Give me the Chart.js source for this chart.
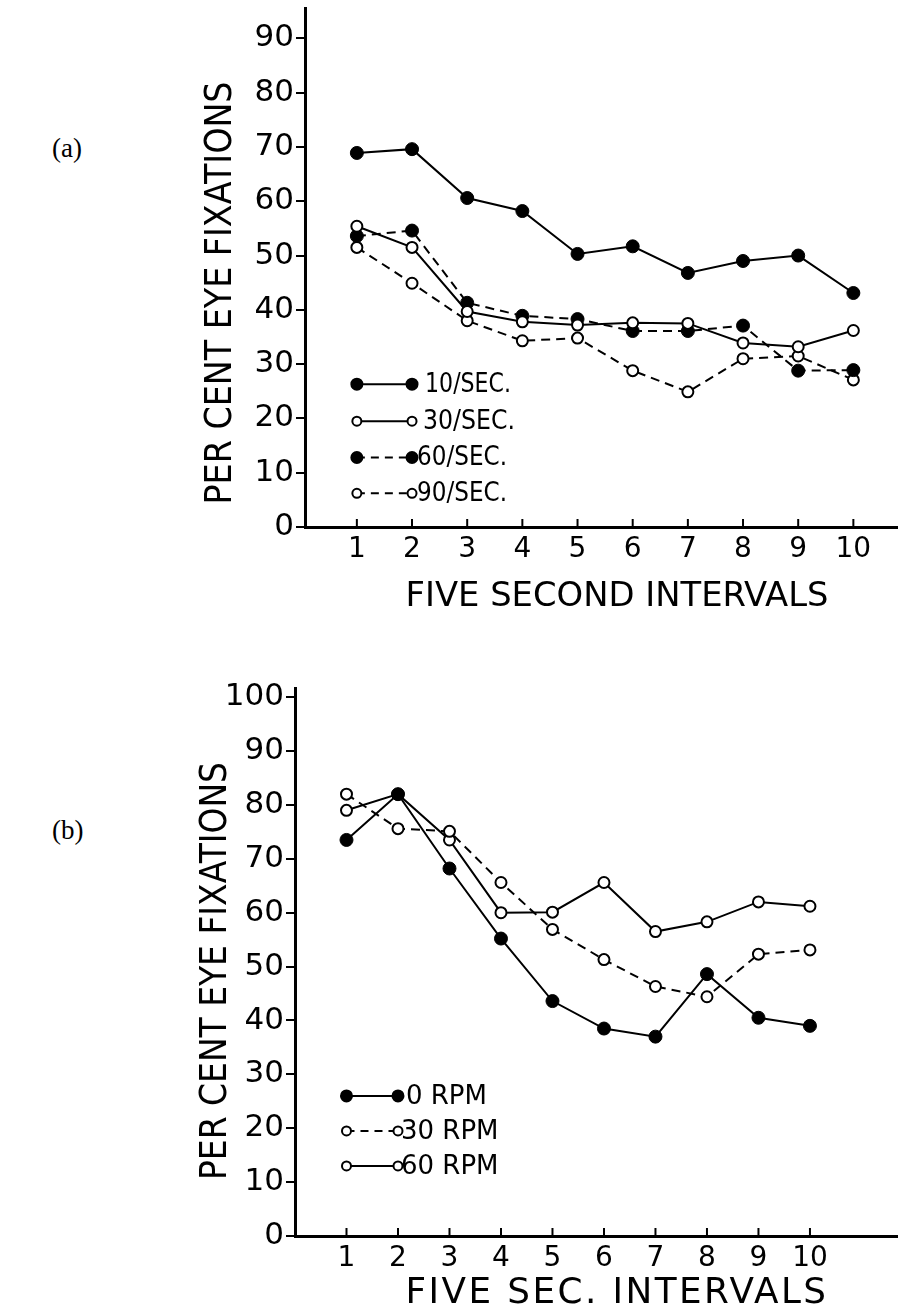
<!DOCTYPE html>
<html>
<head>
<meta charset="utf-8">
<script src="https://cdn.jsdelivr.net/npm/chart.js@4"></script>
<style>
html, body { margin: 0; padding: 0; background: #fff; }
body { width: 905px; height: 1316px; position: relative; overflow: hidden; }
.tag { position: absolute; left: 52px; font-family: "Liberation Serif", "Times New Roman", serif; font-size: 27px; line-height: 30px; color: #000; }
canvas { position: absolute; left: 0; }
</style>
</head>
<body>
<div class="tag" style="top:133px">(a)</div>
<div class="tag" style="top:815px">(b)</div>
<canvas id="chartA" width="905" height="650" style="top:0"></canvas>
<canvas id="chartB" width="905" height="656" style="top:660px"></canvas>
<script>
// five second intervals
var categories = [1, 2, 3, 4, 5, 6, 7, 8, 9, 10];

// (a) flicker rate
var namesA = ['10/SEC.', '30/SEC.', '60/SEC.', '90/SEC.'];
var rate10 = [68.9, 69.6, 60.6, 58.2, 50.3, 51.7, 46.8, 49.0, 50.0, 43.1];
var rate30 = [55.4, 51.5, 39.7, 37.8, 37.2, 37.6, 37.5, 33.9, 33.2, 36.2];
var rate60 = [53.6, 54.6, 41.3, 38.9, 38.3, 36.1, 36.1, 37.1, 28.8, 28.9];
var rate90 = [51.5, 44.9, 38.0, 34.3, 34.8, 28.8, 24.9, 31.0, 31.5, 27.1];
var yTicksA = [0, 10, 20, 30, 40, 50, 60, 70, 80, 90];

// (b) rotation speed
var namesB = ['0 RPM', '30 RPM', '60 RPM'];
var rpm0 = [73.5, 82.0, 68.2, 55.2, 43.6, 38.5, 37.0, 48.6, 40.5, 39.0];
var rpm30 = [82.0, 75.6, 75.1, 65.6, 56.9, 51.3, 46.3, 44.4, 52.3, 53.1];
var rpm60 = [79.0, 82.0, 73.5, 60.0, 60.1, 65.6, 56.5, 58.3, 62.0, 61.2];
var yTicksB = [0, 10, 20, 30, 40, 50, 60, 70, 80, 90, 100];

var yTitle = 'PER CENT EYE FIXATIONS';
var xTitleA = 'FIVE SECOND INTERVALS';
var xTitleB = 'FIVE SEC. INTERVALS';

var DASH = [9, 6];

function series(label, values, filled, dashed) {
    return {
        label: label,
        data: categories.map(function (c, i) { return {x: c, y: values[i]}; }),
        borderColor: '#000',
        borderWidth: 2,
        borderDash: dashed ? DASH : [],
        pointRadius: filled ? 6.5 : 5.5,
        pointBackgroundColor: filled ? '#000' : '#fff',
        pointBorderColor: '#000',
        pointBorderWidth: filled ? 1 : 2,
        tension: 0,
        fill: false
    };
}

function scales(xMin, xMax, yMax, yTicks, yWidth, xHeight) {
    return {
        x: {
            type: 'linear', min: xMin, max: xMax,
            afterBuildTicks: function (s) { s.ticks = categories.map(function (v) { return {value: v}; }); },
            afterFit: function (s) { s.height = xHeight; s.paddingLeft = 0; s.paddingRight = 0; },
            grid: {display: false, drawTicks: false},
            border: {display: true, color: '#000', width: 3},
            ticks: {color: '#000', font: {family: 'DejaVu Sans', size: 28}, padding: 6, autoSkip: false, maxRotation: 0}
        },
        y: {
            type: 'linear', min: 0, max: yMax,
            afterBuildTicks: function (s) { s.ticks = yTicks.map(function (v) { return {value: v}; }); },
            afterFit: function (s) { s.width = yWidth; s.paddingTop = 0; s.paddingBottom = 0; },
            grid: {drawOnChartArea: false, drawTicks: true, tickLength: 9, color: '#000', lineWidth: 2},
            border: {display: true, color: '#000', width: 3},
            ticks: {color: '#000', font: {family: 'DejaVu Sans', size: 31}, padding: 2, autoSkip: false}
        }
    };
}

// draws text squeezed or spread to a given width
function fitText(ctx, text, x, y, size, width) {
    ctx.font = size + 'px "DejaVu Sans"';
    var w = ctx.measureText(text).width;
    if (w < width && 'letterSpacing' in ctx) {
        ctx.letterSpacing = ((width - w) / (text.length - 1)) + 'px';
    }
    ctx.fillText(text, x, y, width);
    if ('letterSpacing' in ctx) ctx.letterSpacing = '0px';
}

var decor = {
    id: 'decor',
    afterDatasetsDraw: function (chart, args, o) {
        var ctx = chart.ctx, xs = chart.scales.x, ys = chart.scales.y, area = chart.chartArea;
        ctx.save();
        ctx.strokeStyle = '#000';
        ctx.fillStyle = '#000';
        ctx.lineWidth = 2;
        // small tick marks pointing up from the x axis
        categories.forEach(function (c) {
            var px = xs.getPixelForValue(c);
            ctx.beginPath();
            ctx.moveTo(px, area.bottom);
            ctx.lineTo(px, area.bottom - 8);
            ctx.stroke();
        });
        // legend: a short line between two markers at x = 1 and x = 2
        var x1 = xs.getPixelForValue(1), x2 = xs.getPixelForValue(2);
        o.legend.forEach(function (item) {
            var y = ys.getPixelForValue(item.row);
            ctx.lineWidth = 2;
            ctx.setLineDash(item.dashed ? [8, 6] : []);
            ctx.beginPath();
            ctx.moveTo(x1, y);
            ctx.lineTo(x2, y);
            ctx.stroke();
            ctx.setLineDash([]);
            [x1, x2].forEach(function (px) {
                ctx.beginPath();
                ctx.arc(px, y, item.filled ? 5.5 : 4.5, 0, Math.PI * 2);
                ctx.fillStyle = item.filled ? '#000' : '#fff';
                ctx.fill();
                ctx.stroke();
            });
            ctx.fillStyle = '#000';
            ctx.textAlign = 'left';
            ctx.textBaseline = 'middle';
            ctx.font = '26px "DejaVu Sans"';
            ctx.fillText(item.label, x2 + item.gap, y + 1, item.width);
        });
        // axis titles
        ctx.textAlign = 'center';
        ctx.textBaseline = 'middle';
        fitText(ctx, o.xTitle.text, o.xTitle.x, o.xTitle.y, o.xTitle.size, o.xTitle.width);
        ctx.translate(o.yTitle.x, o.yTitle.y);
        ctx.rotate(-Math.PI / 2);
        fitText(ctx, yTitle, 0, 0, o.yTitle.size, o.yTitle.width);
        ctx.restore();
    }
};

Chart.defaults.animation = false;

var chartA = new Chart(document.getElementById('chartA'), {
    type: 'line',
    data: {
        datasets: [
            series(namesA[0], rate10, true, false),
            series(namesA[1], rate30, false, false),
            series(namesA[2], rate60, true, true),
            series(namesA[3], rate90, false, true)
        ]
    },
    options: {
        responsive: false,
        layout: {padding: {left: 0, top: 8, right: 5, bottom: 0}},
        scales: scales(0.06, 10.8, 95.6, yTicksA, 305, 123),
        plugins: {
            legend: {display: false},
            tooltip: {enabled: false},
            decor: {
                legend: [
                    {label: namesA[0], row: 26.3, filled: true, dashed: false, gap: 13, width: 86},
                    {label: namesA[1], row: 19.5, filled: false, dashed: false, gap: 11, width: 92},
                    {label: namesA[2], row: 12.8, filled: true, dashed: true, gap: 5, width: 90},
                    {label: namesA[3], row: 6.2, filled: false, dashed: true, gap: 5, width: 90}
                ],
                xTitle: {text: xTitleA, x: 617, y: 597, size: 34, width: 423},
                yTitle: {x: 221, y: 293, size: 38, width: 423}
            }
        }
    },
    plugins: [decor]
});

var chartB = new Chart(document.getElementById('chartB'), {
    type: 'line',
    data: {
        datasets: [
            series(namesB[0], rpm0, true, false),
            series(namesB[1], rpm30, false, true),
            series(namesB[2], rpm60, false, false)
        ]
    },
    options: {
        responsive: false,
        layout: {padding: {left: 0, top: 28, right: 2, bottom: 0}},
        scales: scales(0, 11.7, 101.7, yTicksB, 295, 80),
        plugins: {
            legend: {display: false},
            tooltip: {enabled: false},
            decor: {
                legend: [
                    {label: namesB[0], row: 26, filled: true, dashed: false, gap: 8, width: 99},
                    {label: namesB[1], row: 19.5, filled: false, dashed: true, gap: 3, width: 115},
                    {label: namesB[2], row: 13, filled: false, dashed: false, gap: 3, width: 115}
                ],
                xTitle: {text: xTitleB, x: 617, y: 634, size: 36, width: 423},
                yTitle: {x: 216, y: 311, size: 38, width: 418}
            }
        }
    },
    plugins: [decor]
});
</script>
</body>
</html>
